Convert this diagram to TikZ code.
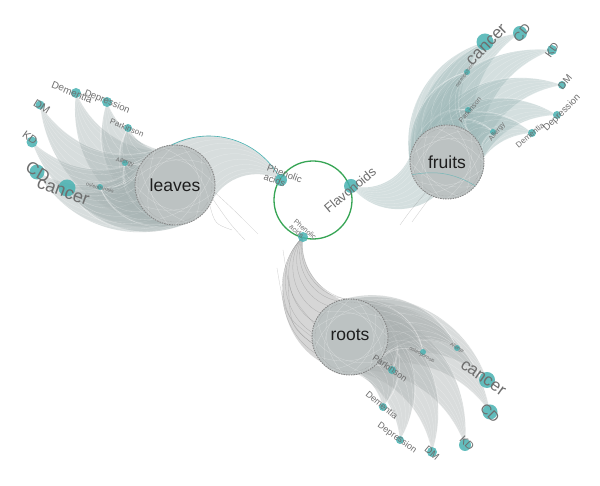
\documentclass[tikz,border=0pt]{standalone}
\usepackage{fontspec}
\setmainfont{Liberation Sans}
\usetikzlibrary{calc}
\definecolor{fangL}{RGB}{168,180,180}
\definecolor{fangF}{RGB}{160,186,186}
\definecolor{fangR}{RGB}{172,178,178}
\definecolor{hubc}{RGB}{188,194,194}
\definecolor{tealdot}{RGB}{72,178,178}
\definecolor{lab}{RGB}{110,110,110}
\definecolor{grn}{RGB}{55,165,85}
\tikzset{
  fanfill/.style={fill=fangL, fill opacity=0.45},
  strand/.style={draw=white, draw opacity=0.35, line width=0.3pt},
  dstrand/.style={draw=gray, draw opacity=0.4, line width=0.3pt},
  dot/.style={circle, fill=tealdot, fill opacity=0.85, inner sep=0pt, minimum size=#1},
  lbl/.style={text=lab, font=\fontsize{#1}{#1}\selectfont, inner sep=0pt},
  hublbl/.style={text={rgb,255:red,30;green,30;blue,30}, font=\fontsize{17.5}{17.5}\selectfont},
  hubdisk/.style={fill=hubc},
  hubring/.style={draw={rgb,255:red,135;green,135;blue,135}, line width=0.9pt, dash pattern=on 1.5pt off 1pt},
  hubring2/.style={draw={rgb,255:red,160;green,160;blue,160}, line width=0.4pt, densely dotted}
}
% [#1 style] #2 D, #3 H, #4 r, #5 a1, #6 a2, #7 bend
\newcommand\fan[7][]{%
  \begin{scope}[#1]
  \fill[fanfill] (#2) to[bend right=#7] ($(#3)+(#5:#4)$) arc[start angle=#5, end angle=#6, radius=#4] to[bend left=#7] (#2);
  \foreach \wk in {1,...,9}{%
    \pgfmathsetmacro\wA{#5+(#6-#5)*\wk/10}%
    \draw[strand] (#2) to[bend right=#7] ($(#3)+(\wA:#4)$);
  }
  \end{scope}}
\begin{document}
\begin{tikzpicture}[x=1pt,y=1pt]
\fill[white] (0,0) rectangle (600,486);
\useasboundingbox (0,0) rectangle (600,486);
% hubs and compounds
\coordinate (LH) at (175,301);
\coordinate (FH) at (447,324);
\coordinate (RH) at (350,149);
\coordinate (G) at (313,286);
\coordinate (PA) at (281,306);
\coordinate (FL) at (351,300);
\coordinate (PB) at (303,249);
% leaves diseases
\coordinate (L-Dem) at (76,393);
\coordinate (L-Dep) at (107,384);
\coordinate (L-Par) at (128,358);
\coordinate (L-DM) at (40,381);
\coordinate (L-KD) at (32,344);
\coordinate (L-CD) at (37,314);
\coordinate (L-can) at (67,298);
\coordinate (L-All) at (125,323);
\coordinate (L-ost) at (100,299);
% fruits diseases
\coordinate (F-can) at (485,444);
\coordinate (F-CD) at (520,453);
\coordinate (F-KD) at (552,436);
\coordinate (F-DM) at (562,401);
\coordinate (F-Dep) at (557,371);
\coordinate (F-Dem) at (532,353);
\coordinate (F-All) at (493,354);
\coordinate (F-Par) at (468,376);
\coordinate (F-ost) at (467,414);
% roots diseases
\coordinate (R-Par) at (392,116);
\coordinate (R-Dem) at (383,79);
\coordinate (R-Dep) at (400,46);
\coordinate (R-DM) at (432,34);
\coordinate (R-KD) at (465,41);
\coordinate (R-CD) at (490,74);
\coordinate (R-can) at (487,106);
\coordinate (R-All) at (457,138);
\coordinate (R-ost) at (423,134);

% ---- leaves wing
\fan{L-Dem}{LH}{40}{67}{247}{40}
\fan{L-Dep}{LH}{40}{59}{239}{40}
\fan{L-Par}{LH}{40}{59}{239}{40}
\fan{L-DM}{LH}{40}{79}{259}{40}
\fan{L-KD}{LH}{40}{93}{273}{40}
\fan{L-CD}{LH}{40}{105}{285}{40}
\fan{L-can}{LH}{40}{112}{292}{40}
\fan{L-All}{LH}{40}{86}{266}{40}
\fan{L-ost}{LH}{40}{112}{292}{40}
% ---- fruits wing
\begin{scope}[fanfill/.style={fill=fangF, fill opacity=0.45}]
\fan{F-can}{FH}{37}{2}{182}{42}
\fan{F-CD}{FH}{37}{-10}{170}{40}
\fan{F-KD}{FH}{37}{-23}{157}{40}
\fan{F-DM}{FH}{37}{-36}{144}{40}
\fan{F-Dep}{FH}{37}{-47}{133}{40}
\fan{F-Dem}{FH}{37}{-51}{129}{40}
\fan{F-All}{FH}{37}{-37}{143}{40}
\fan{F-Par}{FH}{37}{-2}{178}{40}
\fan{F-ost}{FH}{37}{7}{187}{40}
\end{scope}
% ---- roots wing
\begin{scope}[fanfill/.style={fill=fangR, fill opacity=0.45}]
\fan{R-can}{RH}{38}{-87}{93}{40}
\fan{R-CD}{RH}{38}{-98}{82}{40}
\fan{R-KD}{RH}{38}{-113}{67}{40}
\fan{R-DM}{RH}{38}{-125}{55}{40}
\fan{R-Dep}{RH}{38}{-134}{46}{40}
\fan{R-Dem}{RH}{38}{-135}{45}{40}
\fan{R-Par}{RH}{38}{-108}{72}{40}
\fan{R-All}{RH}{38}{-76}{104}{40}
\fan{R-ost}{RH}{38}{-82}{98}{40}
\end{scope}

% ---- compound to hub bundles
\fan{PA}{LH}{40}{-25}{98}{45}
\fan[fanfill/.style={fill=fangF, fill opacity=0.45}]{FL}{FH}{37}{160}{250}{45}
\fan[fanfill/.style={fill={rgb,255:red,175;green,175;blue,175}, fill opacity=0.5}, strand/.style={draw=gray, draw opacity=0.45, line width=0.3pt}]{PB}{RH}{38}{60}{222}{52}
\coordinate (Lfr1) at (258,252);
\coordinate (Lfr2) at (245,246);
\coordinate (Lfr3) at (232,256);
\draw[dstrand] ($(LH)+(-10:40)$) .. controls (235,275) .. (Lfr1);
\draw[dstrand] ($(LH)+(-20:40)$) .. controls (230,262) .. (Lfr2);
\draw[dstrand] ($(LH)+(-30:40)$) .. controls (215,262) .. (Lfr3);
\draw[tealdot, line width=0.6pt] (PA) to[bend right=45] ($(LH)+(95:40)$);
\coordinate (Ffr1) at (400,261);
\coordinate (Ffr2) at (412,264);
\draw[dstrand] ($(FH)+(235:37)$) .. controls (410,275) .. (Ffr1);
\draw[dstrand] ($(FH)+(245:37)$) .. controls (420,275) .. (Ffr2);
\coordinate (Rfr1) at (283,236);
\coordinate (Rfr2) at (277,218);
\coordinate (Rfr3) at (288,210);
\draw[dstrand] ($(RH)+(160:38)$) .. controls (290,190) .. (Rfr1);
\draw[dstrand] ($(RH)+(180:38)$) .. controls (285,170) .. (Rfr2);
\draw[dstrand] ($(RH)+(190:38)$) .. controls (290,160) .. (Rfr3);

% ---- hub circles
\foreach \h/\r in {LH/40,FH/37,RH/38}{
  \fill[hubdisk] (\h) circle (\r);
  \foreach \u in {0,30,...,330}{\draw[strand] ($(\h)+(\u:\r)$) to[bend right=30] ($(\h)+(\u+140:\r)$);}
  \draw[hubring] (\h) circle (\r);
  \draw[hubring2] (\h) circle (\r-3);
}
\draw[tealdot, line width=0.5pt, opacity=0.6] ($(FH)+(200:37)$) to[bend left=20] ($(FH)+(-40:37)$);
\node[hublbl] (leaves) at (LH) {leaves};
\node[hublbl] (fruits) at (FH) {fruits};
\node[hublbl] (roots) at ($(RH)+(0,2)$) {roots};

% ---- compound circle
\node[draw=grn, line width=1.3pt, circle, minimum size=78pt, inner sep=0pt] (comp) at (G) {};

% ---- dots
\foreach \c/\s in {L-Dem/10,L-Dep/10,L-Par/8,L-DM/9,L-KD/11,L-CD/15,L-can/17,L-All/6,L-ost/6,
  F-can/17,F-CD/14,F-KD/10,F-DM/8,F-Dep/8,F-Dem/8,F-All/6,F-Par/6,F-ost/6,
  R-can/16,R-CD/15,R-KD/12,R-DM/10,R-Dep/8,R-Dem/8,R-Par/8,R-All/6,R-ost/6,
  PA/12,FL/14,PB/10}{
  \node[dot=\s pt] (d-\c) at (\c) {};
}

% ---- labels leaves
\node[lbl=10, rotate=-22] (t-L-Dem) at (72,394) {Dementia};
\node[lbl=9.5, rotate=-22] (t-L-Dep) at (107,384) {Depression};
\node[lbl=8, rotate=-22] (t-L-Par) at (127,358) {Parkinson};
\node[lbl=11, rotate=-32] (t-L-DM) at (42,379) {DM};
\node[lbl=11, rotate=-35] (t-L-KD) at (30,348) {KD};
\node[lbl=17, rotate=-30] (t-L-CD) at (38,314) {CD};
\node[lbl=18, rotate=-20] (t-L-can) at (63,294) {cancer};
\node[lbl=6, rotate=-15] (t-L-All) at (125,324) {Allergy};
\node[lbl=5, rotate=-15] (t-L-ost) at (100,298) {osteoporosis};
% ---- labels fruits
\node[lbl=17, rotate=45] (t-F-can) at (487,441) {cancer};
\node[lbl=13, rotate=50] (t-F-CD) at (522,453) {CD};
\node[lbl=11, rotate=55] (t-F-KD) at (552,436) {KD};
\node[lbl=10, rotate=50] (t-F-DM) at (565,404) {DM};
\node[lbl=9.5, rotate=45] (t-F-Dep) at (562,373) {Depression};
\node[lbl=8, rotate=40] (t-F-Dem) at (530,351) {Dementia};
\node[lbl=7, rotate=50] (t-F-All) at (497,354) {Allergy};
\node[lbl=7, rotate=50] (t-F-Par) at (470,376) {Parkinson};
\node[lbl=5, rotate=55] (t-F-ost) at (465,411) {osteoporosis};
% ---- labels roots
\node[lbl=9, rotate=-35] (t-R-Par) at (390,118) {Parkinson};
\node[lbl=9, rotate=-40] (t-R-Dem) at (382,81) {Dementia};
\node[lbl=9, rotate=-35] (t-R-Dep) at (397,48) {Depression};
\node[lbl=10, rotate=-40] (t-R-DM) at (432,33) {DM};
\node[lbl=11, rotate=-45] (t-R-KD) at (467,43) {KD};
\node[lbl=14, rotate=-45] (t-R-CD) at (490,73) {CD};
\node[lbl=17, rotate=-35] (t-R-can) at (483,108) {cancer};
\node[lbl=5, rotate=-30] (t-R-All) at (457,138) {Allergy};
\node[lbl=5, rotate=-30] (t-R-ost) at (422,131) {osteoporosis};
% ---- compound labels
\node[lbl=9.5, rotate=-20, align=left] (t-PA) at (283,308) {Phenolic\\acids};
\node[lbl=13, rotate=40] (t-FL) at (350,296) {Flavonoids};
\node[lbl=7, rotate=-40, align=left] (t-PB) at (303,254) {Phenolic\\acids};
\end{tikzpicture}
\end{document}
